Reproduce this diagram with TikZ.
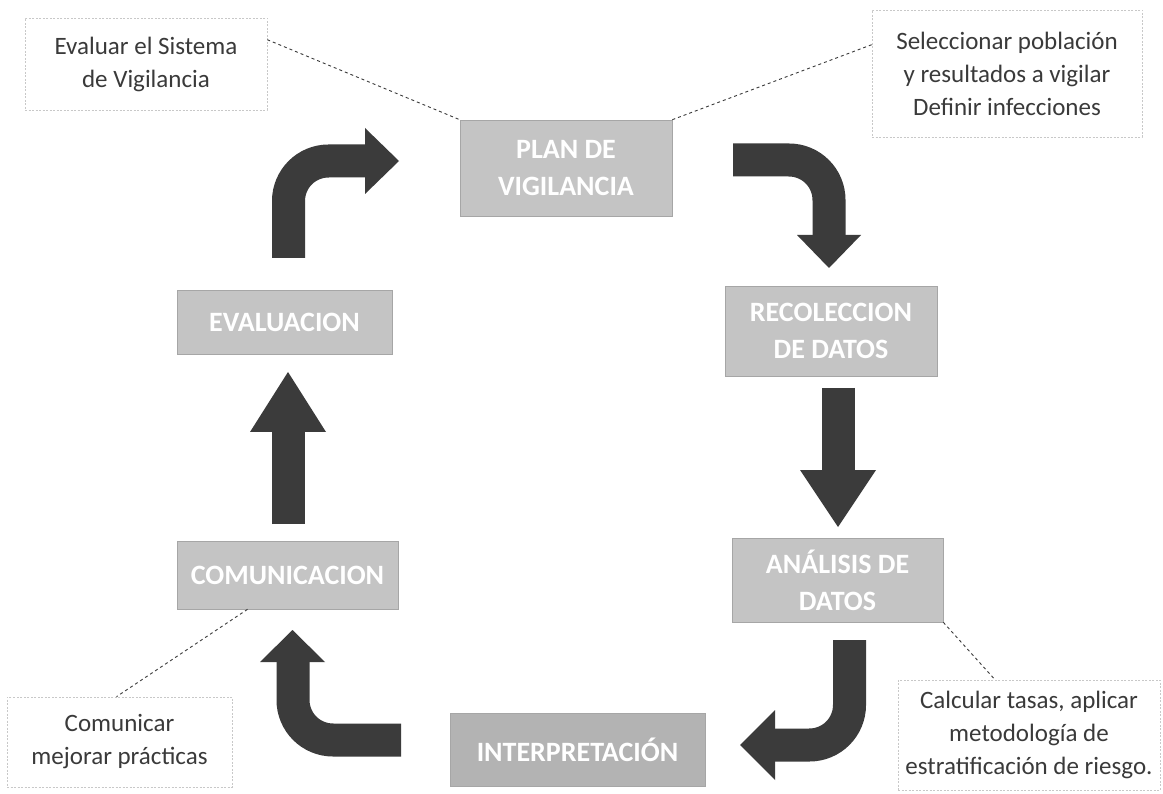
\documentclass[tikz,border=0pt]{standalone}
\usepackage{fontspec}
\setmainfont{Carlito}
\definecolor{stagegray}{HTML}{C4C4C4}
\definecolor{stagedark}{HTML}{B3B3B3}
\definecolor{stageedge}{HTML}{A6A6A6}
\definecolor{notegray}{HTML}{C8C8C8}
\definecolor{textgray}{HTML}{3A3A3A}
\definecolor{arrowgray}{HTML}{3B3B3B}
\begin{document}
\begin{tikzpicture}[x=1pt,y=-1pt,
  stage/.style={fill=stagegray, draw=stageedge, line width=0.6pt, text=white,
    font=\fontsize{28}{37}\selectfont\bfseries, align=center, inner sep=0pt},
  note/.style={draw=notegray, dash pattern=on 2pt off 1.5pt, line width=0.6pt,
    fill=white, text=textgray, font=\fontsize{25}{33}\selectfont, align=center, inner sep=0pt},
  leader/.style={draw=textgray, dash pattern=on 3pt off 3pt, line width=0.9pt},
  bigshaft/.style={draw=arrowgray, line width=33pt, rounded corners=40pt},
  head/.style={fill=arrowgray}]
\useasboundingbox (0,0) rectangle (1163,794);
\fill[white] (0,0) rectangle (1163,794);

% stage boxes
\node[stage, minimum width=212pt, minimum height=96pt] (plan) at (566,168) {PLAN DE\\VIGILANCIA};
\node[stage, minimum width=212pt, minimum height=90pt] (recol) at (831,331) {RECOLECCION\\DE DATOS};
\node[stage, minimum width=211pt, minimum height=84pt] (anal) at (837.5,580) {ANÁLISIS DE\\DATOS};
\node[stage, fill=stagedark, minimum width=255pt, minimum height=73pt] (interp) at (577.5,749.5) {INTERPRETACIÓN};
\node[stage, minimum width=221pt, minimum height=68pt] (comm) at (287.5,575) {COMUNICACION};
\node[stage, minimum width=215pt, minimum height=64pt] (eval) at (284.5,322) {EVALUACION};

% callout notes
\node[note, minimum width=242pt, minimum height=92pt] (evaluar) at (146,64) {Evaluar el Sistema\\de Vigilancia};
\node[note, minimum width=270pt, minimum height=127pt] (selecc) at (1007,73.5) {Seleccionar población\\y resultados a vigilar\\Definir infecciones};
\node[note, minimum width=225pt, minimum height=90pt] (comunicar) at (119.5,742) {Comunicar\\mejorar prácticas};
\node[note, minimum width=262pt, minimum height=110pt] (calcular) at (1029,735) {Calcular tasas, aplicar\\metodología de\\estratificación de riesgo.};

% leader lines
\draw[leader] ([yshift=-22pt]evaluar.north east) -- (plan.north west);
\draw[leader] ([yshift=-35pt]selecc.north west) -- (plan.north east);
\draw[leader] ([xshift=-40pt]comm.south) -- ([xshift=-3pt]comunicar.north);
\draw[leader] (anal.south east) -- ([xshift=-34pt]calcular.north);

% big flow arrows
\coordinate (a1s) at (288.5,258);
\coordinate (a1c) at (288.5,161);
\coordinate (a1e) at (366,161);
\draw[bigshaft] (a1s) -- (a1c) -- (a1e);
\fill[head] (365,128) -- (399,161) -- (365,194) -- cycle;

\coordinate (a2s) at (733,160);
\coordinate (a2c) at (829,160);
\coordinate (a2e) at (829,236);
\draw[bigshaft] (a2s) -- (a2c) -- (a2e);
\fill[head] (797,235) -- (829,268) -- (861,235) -- cycle;

\coordinate (a3s) at (838,388);
\coordinate (a3e) at (838,471);
\draw[bigshaft] (a3s) -- (a3e);
\fill[head] (800,470) -- (838,527) -- (876,470) -- cycle;

\coordinate (a4s) at (849.5,640);
\coordinate (a4c) at (849.5,745);
\coordinate (a4e) at (774,745);
\draw[bigshaft] (a4s) -- (a4c) -- (a4e);
\fill[head] (775,710) -- (740,745) -- (775,780) -- cycle;

\coordinate (a5s) at (401,740);
\coordinate (a5c) at (293,740);
\coordinate (a5e) at (293,661);
\draw[bigshaft] (a5s) -- (a5c) -- (a5e);
\fill[head] (260,662) -- (292.5,630) -- (325,662) -- cycle;

\coordinate (a6s) at (288,524);
\coordinate (a6e) at (288,431);
\draw[bigshaft] (a6s) -- (a6e);
\fill[head] (250,432) -- (288,372) -- (326,432) -- cycle;
\end{tikzpicture}
\end{document}
